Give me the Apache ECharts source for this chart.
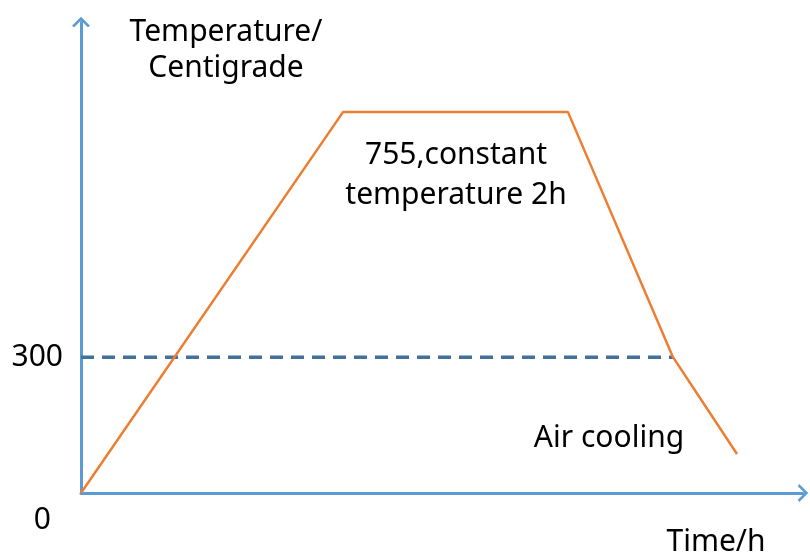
<!DOCTYPE html>
<html>
<head>
<meta charset="utf-8">
<script src="https://cdn.jsdelivr.net/npm/echarts@6/dist/echarts.min.js"></script>
<style>
  html, body { margin: 0; padding: 0; background: #fff; }
  #chart { width: 810px; height: 556px; }
</style>
</head>
<body>
<div id="chart"></div>
<script>
// heating curve: time (h, schematic) vs temperature (schematic units)
const timeH = [0, 26.2, 48.7, 59.2, 65.6];
const tempC = [0, 841, 841, 300, 86];
// dashed 300 reference line
const refTime = [0, 59.2];
const refTemp = [300, 300];
const yTicks = [0, 300];

const FONT = '"Noto Sans", "Open Sans", sans-serif';
const axisBlue = '#5B9BD5';
const chevron = 'path://M0,10 L10,0 L20,10 L17.6,11.6 L10,4 L2.4,11.6 Z';

const chart = echarts.init(document.getElementById('chart'));
chart.setOption({
  backgroundColor: '#fff',
  animation: false,
  grid: { left: 81, right: 7, top: 22, bottom: 63 },
  xAxis: {
    type: 'value',
    min: 0,
    max: 72.2,
    axisLine: {
      show: true,
      symbol: ['none', chevron],
      symbolSize: [18, 14],
      lineStyle: { color: axisBlue, width: 3 }
    },
    axisTick: { show: false },
    axisLabel: { show: false },
    splitLine: { show: false }
  },
  yAxis: {
    type: 'value',
    min: 0,
    max: 1040,
    interval: 300,
    axisLine: {
      show: true,
      symbol: ['none', chevron],
      symbolSize: [18, 14],
      lineStyle: { color: axisBlue, width: 3 }
    },
    axisTick: { show: false },
    splitLine: { show: false },
    axisLabel: {
      margin: 18,
      color: '#000',
      fontFamily: FONT,
      fontSize: 30,
      formatter: (v) => {
        if (!yTicks.includes(v)) return '';
        return v === 0 ? '{z|0}' : String(v);
      },
      rich: {
        z: { fontFamily: FONT, fontSize: 30, color: '#000', padding: [54, 12, 0, 0] }
      }
    }
  },
  series: [
    {
      type: 'line',
      data: refTime.map((t, i) => [t, refTemp[i]]),
      symbol: 'none',
      lineStyle: { color: '#41719C', width: 3.5, type: [13, 8] },
      z: 2
    },
    {
      type: 'line',
      data: timeH.map((t, i) => [t, tempC[i]]),
      symbol: 'none',
      lineStyle: { color: '#ED7D31', width: 2.5 },
      z: 3
    }
  ],
  graphic: [
    {
      type: 'text', x: 226, y: 50,
      style: {
        text: 'Temperature/\nCentigrade', fontFamily: FONT, fontSize: 30, lineHeight: 36,
        fill: '#000', align: 'center', verticalAlign: 'middle'
      }
    },
    {
      type: 'text', x: 456, y: 175,
      style: {
        text: '755,constant\ntemperature 2h', fontFamily: FONT, fontSize: 30, lineHeight: 40,
        fill: '#000', align: 'center', verticalAlign: 'middle'
      }
    },
    {
      type: 'text', x: 609, y: 438,
      style: {
        text: 'Air cooling', fontFamily: FONT, fontSize: 30,
        fill: '#000', align: 'center', verticalAlign: 'middle'
      }
    },
    {
      type: 'text', x: 716, y: 542,
      style: {
        text: 'Time/h', fontFamily: FONT, fontSize: 30,
        fill: '#000', align: 'center', verticalAlign: 'middle'
      }
    }
  ]
});
</script>
</body>
</html>
